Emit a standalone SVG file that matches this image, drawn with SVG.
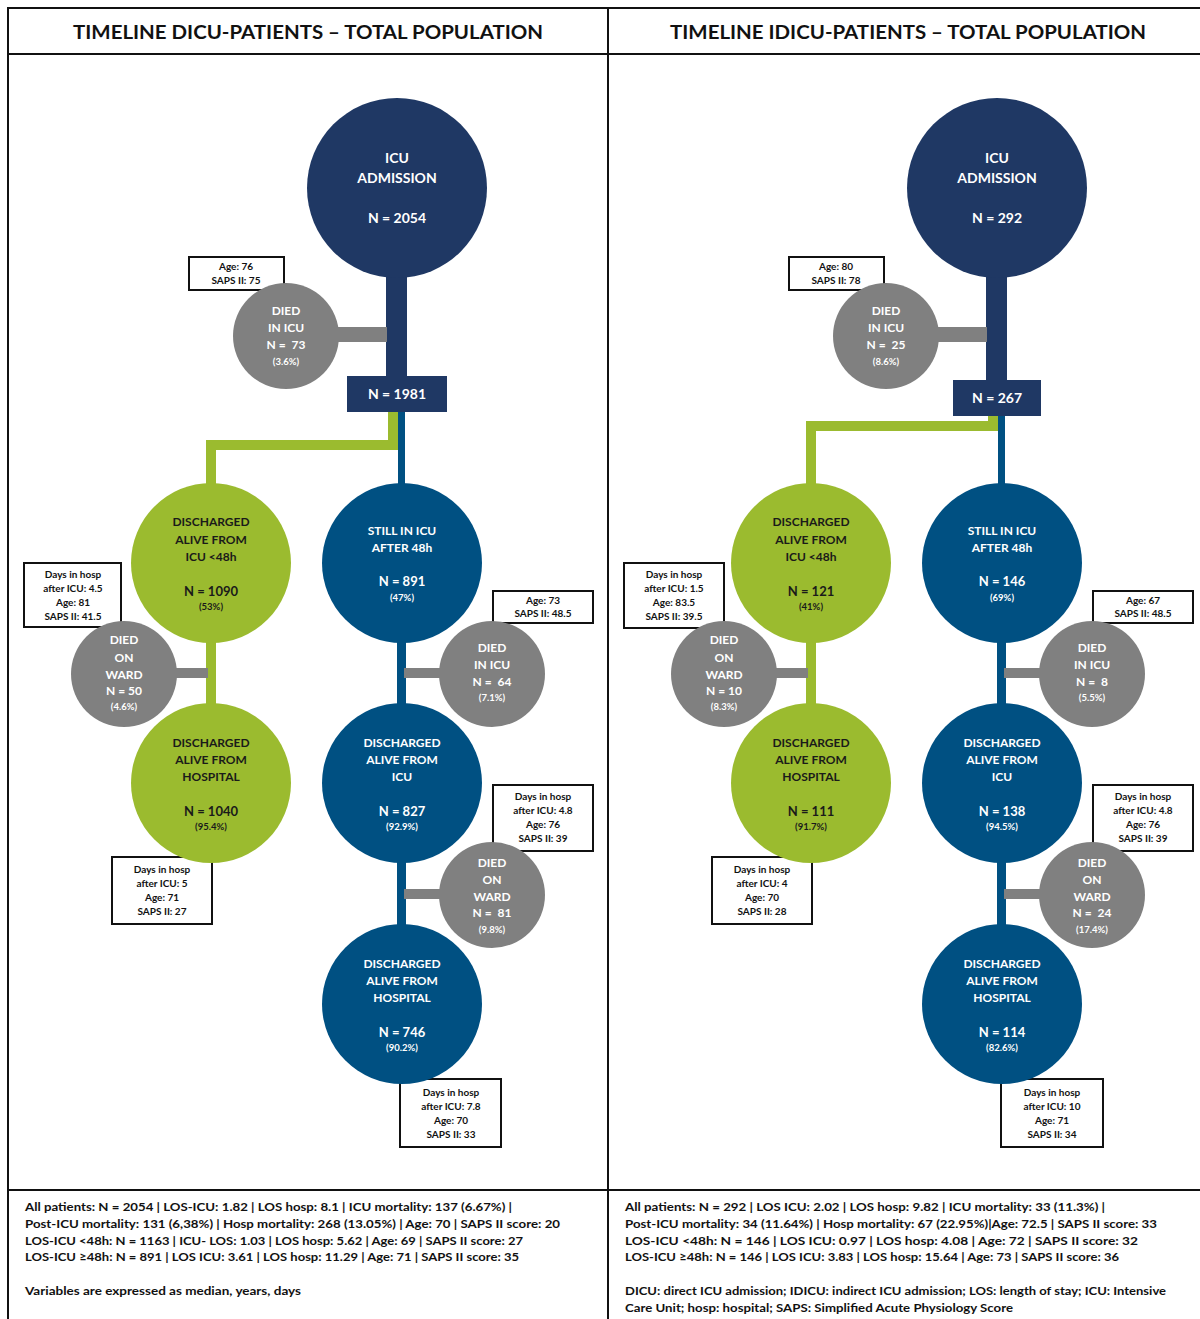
<svg xmlns="http://www.w3.org/2000/svg" width="1200" height="1319" viewBox="0 0 1200 1319">
<style>
text{font-family:Lato,"Open Sans","Liberation Sans",sans-serif;font-weight:bold;text-anchor:middle;white-space:pre}
.hd{font-size:19px;fill:#111}
.navy{fill:#1f3864}
.blue{fill:#005082}
.green{fill:#9bbb2f}
.gray{fill:#808080}
.box{fill:#fff;stroke:#111;stroke-width:2}
.w{fill:#fff}
.d{fill:#1a1a1a}
.t14{font-size:14px}
.t12{font-size:12px}
.t13{font-size:13px}
.p{font-size:9.5px}
.b{font-size:10px;fill:#111}
.ft{font-size:12px;fill:#111;text-anchor:start}
</style>
<rect x="0" y="0" width="1200" height="1319" fill="#fff"/>
<g id="frame" fill="none" stroke="#111" stroke-width="2">
<rect x="8" y="8" width="1200" height="1320"/>
<line x1="608" y1="8" x2="608" y2="1319"/>
<line x1="8" y1="54" x2="1200" y2="54"/>
<line x1="8" y1="1190" x2="1200" y2="1190"/>
</g>
<text class="hd" x="308" y="39" textLength="470" lengthAdjust="spacingAndGlyphs">TIMELINE DICU-PATIENTS – TOTAL POPULATION</text>
<text class="hd" x="908" y="39" textLength="476" lengthAdjust="spacingAndGlyphs">TIMELINE IDICU-PATIENTS – TOTAL POPULATION</text>

<g id="connectors">
<rect class="navy" x="386" y="270" width="21" height="108"/>
<rect class="gray" x="335" y="327" width="52" height="15"/>
<path d="M393 412V445H211V490" fill="none" stroke="#9bbb2f" stroke-width="10"/>
<path d="M401.5 412V490" fill="none" stroke="#005082" stroke-width="7"/>
<rect class="green" x="206" y="640" width="10" height="66"/>
<rect class="gray" x="175" y="668" width="33" height="10"/>
<rect class="blue" x="397" y="640" width="9" height="290"/>
<rect class="gray" x="404" y="668" width="37" height="10"/>
<rect class="gray" x="404" y="889" width="37" height="10"/>

<rect class="navy" x="986" y="270" width="21" height="112"/>
<rect class="gray" x="935" y="327" width="52" height="15"/>
<path d="M993 416V426H811V490" fill="none" stroke="#9bbb2f" stroke-width="10"/>
<path d="M1001.5 416V490" fill="none" stroke="#005082" stroke-width="7"/>
<rect class="green" x="806" y="640" width="10" height="66"/>
<rect class="gray" x="775" y="668" width="33" height="10"/>
<rect class="blue" x="997" y="640" width="9" height="290"/>
<rect class="gray" x="1004" y="668" width="37" height="10"/>
<rect class="gray" x="1004" y="889" width="37" height="10"/>
</g>

<!-- LEFT PANEL -->
<g id="L-admission">
<circle class="navy" cx="397" cy="188" r="90"/>
<text class="w t14" x="397" y="163">ICU</text>
<text class="w t14" x="397" y="183">ADMISSION</text>
<text class="w t14" x="397" y="223">N = 2054</text>
</g>
<g id="L-died-icu-info"><rect class="box" x="189" y="257" width="95" height="33"/>
<text class="b" x="236" y="270">Age: 76</text><text class="b" x="236" y="284">SAPS II: 75</text></g>
<g id="L-died-icu">
<circle class="gray" cx="286" cy="336" r="53"/>
<text class="w t12" x="286" y="315">DIED</text>
<text class="w t12" x="286" y="332">IN ICU</text>
<text class="w t12" x="286" y="349">N =  73</text>
<text class="w p" x="286" y="365">(3.6%)</text>
</g>
<g id="L-n1981"><rect class="navy" x="347" y="376" width="100" height="36"/>
<text class="w t14" x="397" y="399">N = 1981</text></g>

<g id="L-green1">
<circle class="green" cx="211" cy="563" r="80"/>
<text class="d t12" x="211" y="526">DISCHARGED</text>
<text class="d t12" x="211" y="544">ALIVE FROM</text>
<text class="d t12" x="211" y="561">ICU &lt;48h</text>
<text class="d t13" x="211" y="596">N = 1090</text>
<text class="d p" x="211" y="610">(53%)</text>
</g>
<g id="L-blue1">
<circle class="blue" cx="402" cy="563" r="80"/>
<text class="w t12" x="402" y="535">STILL IN ICU</text>
<text class="w t12" x="402" y="552">AFTER 48h</text>
<text class="w t13" x="402" y="586">N = 891</text>
<text class="w p" x="402" y="601">(47%)</text>
</g>
<g id="L-ward1-info"><rect class="box" x="24" y="563" width="97" height="64"/>
<text class="b" x="73" y="578">Days in hosp</text><text class="b" x="73" y="592">after ICU: 4.5</text>
<text class="b" x="73" y="606">Age: 81</text><text class="b" x="73" y="620">SAPS II: 41.5</text></g>
<g id="L-ward1">
<circle class="gray" cx="124" cy="674" r="53"/>
<text class="w t12" x="124" y="644">DIED</text>
<text class="w t12" x="124" y="662">ON</text>
<text class="w t12" x="124" y="679">WARD</text>
<text class="w t12" x="124" y="695">N = 50</text>
<text class="w p" x="124" y="710">(4.6%)</text>
</g>
<g id="L-icu2-info"><rect class="box" x="493" y="591" width="100" height="32"/>
<text class="b" x="543" y="604">Age: 73</text><text class="b" x="543" y="617">SAPS II: 48.5</text></g>
<g id="L-icu2">
<circle class="gray" cx="492" cy="674" r="53"/>
<text class="w t12" x="492" y="652">DIED</text>
<text class="w t12" x="492" y="669">IN ICU</text>
<text class="w t12" x="492" y="686">N =  64</text>
<text class="w p" x="492" y="701">(7.1%)</text>
</g>
<g id="L-green2-info"><rect class="box" x="112" y="857" width="100" height="67"/>
<text class="b" x="162" y="873">Days in hosp</text><text class="b" x="162" y="887">after ICU: 5</text>
<text class="b" x="162" y="901">Age: 71</text><text class="b" x="162" y="915">SAPS II: 27</text></g>
<g id="L-green2">
<circle class="green" cx="211" cy="783" r="80"/>
<text class="d t12" x="211" y="747">DISCHARGED</text>
<text class="d t12" x="211" y="764">ALIVE FROM</text>
<text class="d t12" x="211" y="781">HOSPITAL</text>
<text class="d t13" x="211" y="816">N = 1040</text>
<text class="d p" x="211" y="830">(95.4%)</text>
</g>
<g id="L-blue2">
<circle class="blue" cx="402" cy="783" r="80"/>
<text class="w t12" x="402" y="747">DISCHARGED</text>
<text class="w t12" x="402" y="764">ALIVE FROM</text>
<text class="w t12" x="402" y="781">ICU</text>
<text class="w t13" x="402" y="816">N = 827</text>
<text class="w p" x="402" y="830">(92.9%)</text>
</g>
<g id="L-ward2-info"><rect class="box" x="493" y="785" width="100" height="66"/>
<text class="b" x="543" y="800">Days in hosp</text><text class="b" x="543" y="814">after ICU: 4.8</text>
<text class="b" x="543" y="828">Age: 76</text><text class="b" x="543" y="842">SAPS II: 39</text></g>
<g id="L-ward2">
<circle class="gray" cx="492" cy="895" r="53"/>
<text class="w t12" x="492" y="867">DIED</text>
<text class="w t12" x="492" y="884">ON</text>
<text class="w t12" x="492" y="901">WARD</text>
<text class="w t12" x="492" y="917">N =  81</text>
<text class="w p" x="492" y="933">(9.8%)</text>
</g>
<g id="L-blue3-info"><rect class="box" x="400" y="1079" width="101" height="68"/>
<text class="b" x="451" y="1096">Days in hosp</text><text class="b" x="451" y="1110">after ICU: 7.8</text>
<text class="b" x="451" y="1124">Age: 70</text><text class="b" x="451" y="1138">SAPS II: 33</text></g>
<g id="L-blue3">
<circle class="blue" cx="402" cy="1004" r="80"/>
<text class="w t12" x="402" y="968">DISCHARGED</text>
<text class="w t12" x="402" y="985">ALIVE FROM</text>
<text class="w t12" x="402" y="1002">HOSPITAL</text>
<text class="w t13" x="402" y="1037">N = 746</text>
<text class="w p" x="402" y="1051">(90.2%)</text>
</g>

<!-- RIGHT PANEL -->
<g id="R-admission">
<circle class="navy" cx="997" cy="188" r="90"/>
<text class="w t14" x="997" y="163">ICU</text>
<text class="w t14" x="997" y="183">ADMISSION</text>
<text class="w t14" x="997" y="223">N = 292</text>
</g>
<g id="R-died-icu-info"><rect class="box" x="789" y="257" width="95" height="33"/>
<text class="b" x="836" y="270">Age: 80</text><text class="b" x="836" y="284">SAPS II: 78</text></g>
<g id="R-died-icu">
<circle class="gray" cx="886" cy="336" r="53"/>
<text class="w t12" x="886" y="315">DIED</text>
<text class="w t12" x="886" y="332">IN ICU</text>
<text class="w t12" x="886" y="349">N =  25</text>
<text class="w p" x="886" y="365">(8.6%)</text>
</g>
<g id="R-n267"><rect class="navy" x="953" y="380" width="88" height="36"/>
<text class="w t14" x="997" y="403">N = 267</text></g>

<g id="R-green1">
<circle class="green" cx="811" cy="563" r="80"/>
<text class="d t12" x="811" y="526">DISCHARGED</text>
<text class="d t12" x="811" y="544">ALIVE FROM</text>
<text class="d t12" x="811" y="561">ICU &lt;48h</text>
<text class="d t13" x="811" y="596">N = 121</text>
<text class="d p" x="811" y="610">(41%)</text>
</g>
<g id="R-blue1">
<circle class="blue" cx="1002" cy="563" r="80"/>
<text class="w t12" x="1002" y="535">STILL IN ICU</text>
<text class="w t12" x="1002" y="552">AFTER 48h</text>
<text class="w t13" x="1002" y="586">N = 146</text>
<text class="w p" x="1002" y="601">(69%)</text>
</g>
<g id="R-ward1-info"><rect class="box" x="624" y="563" width="100" height="65"/>
<text class="b" x="674" y="578">Days in hosp</text><text class="b" x="674" y="592">after ICU: 1.5</text>
<text class="b" x="674" y="606">Age: 83.5</text><text class="b" x="674" y="620">SAPS II: 39.5</text></g>
<g id="R-ward1">
<circle class="gray" cx="724" cy="674" r="53"/>
<text class="w t12" x="724" y="644">DIED</text>
<text class="w t12" x="724" y="662">ON</text>
<text class="w t12" x="724" y="679">WARD</text>
<text class="w t12" x="724" y="695">N = 10</text>
<text class="w p" x="724" y="710">(8.3%)</text>
</g>
<g id="R-icu2-info"><rect class="box" x="1093" y="591" width="100" height="32"/>
<text class="b" x="1143" y="604">Age: 67</text><text class="b" x="1143" y="617">SAPS II: 48.5</text></g>
<g id="R-icu2">
<circle class="gray" cx="1092" cy="674" r="53"/>
<text class="w t12" x="1092" y="652">DIED</text>
<text class="w t12" x="1092" y="669">IN ICU</text>
<text class="w t12" x="1092" y="686">N =  8</text>
<text class="w p" x="1092" y="701">(5.5%)</text>
</g>
<g id="R-green2-info"><rect class="box" x="712" y="857" width="100" height="67"/>
<text class="b" x="762" y="873">Days in hosp</text><text class="b" x="762" y="887">after ICU: 4</text>
<text class="b" x="762" y="901">Age: 70</text><text class="b" x="762" y="915">SAPS II: 28</text></g>
<g id="R-green2">
<circle class="green" cx="811" cy="783" r="80"/>
<text class="d t12" x="811" y="747">DISCHARGED</text>
<text class="d t12" x="811" y="764">ALIVE FROM</text>
<text class="d t12" x="811" y="781">HOSPITAL</text>
<text class="d t13" x="811" y="816">N = 111</text>
<text class="d p" x="811" y="830">(91.7%)</text>
</g>
<g id="R-blue2">
<circle class="blue" cx="1002" cy="783" r="80"/>
<text class="w t12" x="1002" y="747">DISCHARGED</text>
<text class="w t12" x="1002" y="764">ALIVE FROM</text>
<text class="w t12" x="1002" y="781">ICU</text>
<text class="w t13" x="1002" y="816">N = 138</text>
<text class="w p" x="1002" y="830">(94.5%)</text>
</g>
<g id="R-ward2-info"><rect class="box" x="1093" y="785" width="100" height="66"/>
<text class="b" x="1143" y="800">Days in hosp</text><text class="b" x="1143" y="814">after ICU: 4.8</text>
<text class="b" x="1143" y="828">Age: 76</text><text class="b" x="1143" y="842">SAPS II: 39</text></g>
<g id="R-ward2">
<circle class="gray" cx="1092" cy="895" r="53"/>
<text class="w t12" x="1092" y="867">DIED</text>
<text class="w t12" x="1092" y="884">ON</text>
<text class="w t12" x="1092" y="901">WARD</text>
<text class="w t12" x="1092" y="917">N =  24</text>
<text class="w p" x="1092" y="933">(17.4%)</text>
</g>
<g id="R-blue3-info"><rect class="box" x="1001" y="1079" width="102" height="68"/>
<text class="b" x="1052" y="1096">Days in hosp</text><text class="b" x="1052" y="1110">after ICU: 10</text>
<text class="b" x="1052" y="1124">Age: 71</text><text class="b" x="1052" y="1138">SAPS II: 34</text></g>
<g id="R-blue3">
<circle class="blue" cx="1002" cy="1004" r="80"/>
<text class="w t12" x="1002" y="968">DISCHARGED</text>
<text class="w t12" x="1002" y="985">ALIVE FROM</text>
<text class="w t12" x="1002" y="1002">HOSPITAL</text>
<text class="w t13" x="1002" y="1037">N = 114</text>
<text class="w p" x="1002" y="1051">(82.6%)</text>
</g>

<g id="L-footer">
<text class="ft" x="25" y="1211" textLength="487" lengthAdjust="spacingAndGlyphs">All patients: N = 2054 | LOS-ICU: 1.82 | LOS hosp: 8.1 | ICU mortality: 137 (6.67%) |</text>
<text class="ft" x="25" y="1228" textLength="535" lengthAdjust="spacingAndGlyphs">Post-ICU mortality: 131 (6,38%) | Hosp mortality: 268 (13.05%) | Age: 70 | SAPS II score: 20</text>
<text class="ft" x="25" y="1245" textLength="498" lengthAdjust="spacingAndGlyphs">LOS-ICU &lt;48h: N = 1163 | ICU- LOS: 1.03 | LOS hosp: 5.62 | Age: 69 | SAPS II score: 27</text>
<text class="ft" x="25" y="1261" textLength="494" lengthAdjust="spacingAndGlyphs">LOS-ICU ≥48h: N = 891 | LOS ICU: 3.61 | LOS hosp: 11.29 | Age: 71 | SAPS II score: 35</text>
<text class="ft" x="25" y="1295" textLength="276" lengthAdjust="spacingAndGlyphs">Variables are expressed as median, years, days</text>
</g>
<g id="R-footer">
<text class="ft" x="625" y="1211" textLength="480" lengthAdjust="spacingAndGlyphs">All patients: N = 292 | LOS ICU: 2.02 | LOS hosp: 9.82 | ICU mortality: 33 (11.3%) |</text>
<text class="ft" x="625" y="1228" textLength="532" lengthAdjust="spacingAndGlyphs">Post-ICU mortality: 34 (11.64%) | Hosp mortality: 67 (22.95%)|Age: 72.5 | SAPS II score: 33</text>
<text class="ft" x="625" y="1245" textLength="513" lengthAdjust="spacingAndGlyphs">LOS-ICU &lt;48h: N = 146 | LOS ICU: 0.97 | LOS hosp: 4.08 | Age: 72 | SAPS II score: 32</text>
<text class="ft" x="625" y="1261" textLength="494" lengthAdjust="spacingAndGlyphs">LOS-ICU ≥48h: N = 146 | LOS ICU: 3.83 | LOS hosp: 15.64 | Age: 73 | SAPS II score: 36</text>
<text class="ft" x="625" y="1295" textLength="541" lengthAdjust="spacingAndGlyphs">DICU: direct ICU admission; IDICU: indirect ICU admission; LOS: length of stay; ICU: Intensive</text>
<text class="ft" x="625" y="1312" textLength="388" lengthAdjust="spacingAndGlyphs">Care Unit; hosp: hospital; SAPS: Simplified Acute Physiology Score</text>
</g>
</svg>
